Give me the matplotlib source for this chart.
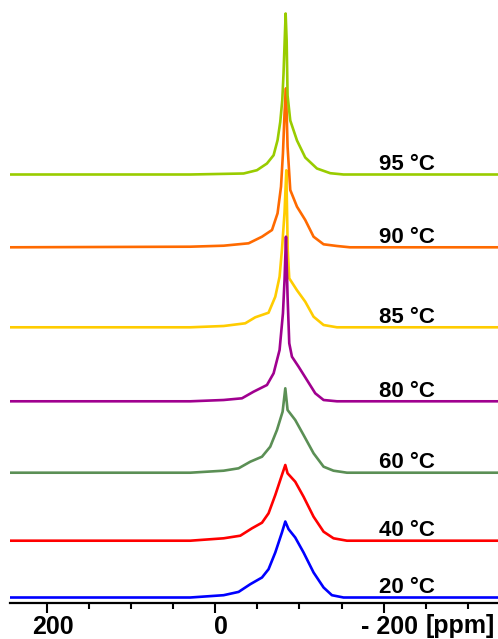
import numpy as np
import matplotlib
matplotlib.use('Agg')
import matplotlib.pyplot as plt
import matplotlib.transforms as mtransforms
from matplotlib.ticker import MultipleLocator

plt.rcParams['font.family'] = 'Liberation Sans'
plt.rcParams['font.weight'] = 'bold'

# temperatures, bottom trace first
temps = ['20 °C', '40 °C', '60 °C', '80 °C', '85 °C', '90 °C', '95 °C']
colors = ['#0000ff', '#ff0000', '#5b8f55', '#a0008f', '#ffcc00', '#ff6a00', '#99cc00']
# vertical stacking offset of each trace (intensity units)
offsets = [5.5, 62.3, 130.3, 201.7, 275.7, 355.7, 428.5]

# chemical shift (ppm) / intensity pairs
ppm_20 = [244, 29.7, -9.9, -27.7, -41.6, -55.5, -63.3, -71.3, -79.2, -83.2,
          -87.1, -95.0, -104.9, -116.8, -128.7, -138.6, -152.4, -336]
int_20 = [0, 0, 2.3, 5.6, 13.3, 20, 28.3, 45, 65, 76,
          68.3, 60, 45, 25, 10, 2.3, 0, 0]

ppm_40 = [244, 29.7, -9.9, -29.7, -43.6, -55.5, -63.3, -71.3, -79.2, -83.2,
          -85.9, -95.0, -104.9, -116.8, -128.7, -140.5, -156.5, -336]
int_40 = [0, 0, 2.4, 5, 12.4, 18, 27.4, 45.7, 65.7, 75.7,
          67.4, 59, 44, 24, 9, 2.4, 0, 0]

ppm_60 = [244, 29.7, -9.9, -27.7, -41.6, -55.5, -65.3, -73.3, -80.0, -83.2,
          -85.9, -95.0, -104.9, -116.8, -128.7, -140.5, -156.5, -336]
int_60 = [0, 0, 2, 4.4, 11, 16, 26, 42.7, 61, 84.4,
          62.7, 52.7, 37.7, 19.4, 6, 2, 0, 0]

ppm_80 = [244, 29.7, -9.9, -31.7, -45.5, -61.4, -69.3, -76.4, -80.4, -82.3,
          -84.0, -85.9, -87.9, -91.1, -99.0, -108.9, -118.8, -128.7, -144.6, -336]
int_80 = [0, 0, 1.3, 3, 9.6, 16.3, 28, 51.3, 88, 121.3,
          164.6, 104.6, 58, 44.6, 34.6, 21.3, 8, 1.3, 0, 0]

ppm_85 = [244, 29.7, -9.9, -35.6, -47.5, -63.3, -71.3, -76.4, -79.2, -82.3,
          -84.4, -86.1, -87.9, -97.1, -106.9, -116.8, -128.7, -144.6, -336]
int_85 = [0, 0, 1.3, 4, 10, 14.6, 30.6, 50.6, 77.3, 115,
          157, 77, 49, 37, 25.6, 10.6, 2.3, 0, 0]

ppm_90 = [244, 29.7, -9.9, -39.6, -55.5, -67.4, -74.0, -78.1, -80.4, -82.3,
          -84.0, -85.9, -89.1, -97.1, -106.9, -116.8, -128.7, -144.6, -160, -336]
int_90 = [0, 0.6, 1.6, 4, 10.6, 17.3, 34, 60.6, 94, 134,
          159, 100.6, 57.3, 40.6, 27.3, 10.6, 3, 1.3, 0, 0]

ppm_95 = [244, 29.7, -33.6, -49.5, -61.4, -69.3, -74.0, -77.2, -79.6, -81.1,
          -83.6, -84.8, -85.9, -89.1, -97.1, -106.9, -120.8, -136.6, -152.4, -336]
int_95 = [0, 0, 1, 4.3, 11, 19.3, 34.3, 52.6, 74.3, 101,
          161, 134, 79, 54, 34, 17, 6, 1.3, 0, 0]

ppms = [ppm_20, ppm_40, ppm_60, ppm_80, ppm_85, ppm_90, ppm_95]
ints = [int_20, int_40, int_60, int_80, int_85, int_90, int_95]

fig = plt.figure(figsize=(4.98, 6.39), dpi=100)
ax = fig.add_axes([10 / 498, 36 / 639, 488 / 498, 603 / 639])

# 85 C goes under 80 C so the sharp 80 C spike stays visible
order = [0, 1, 2, 4, 3, 5, 6]
for i in order:
    x = np.array(ppms[i])
    y = np.array(ints[i]) + offsets[i]
    ax.plot(x, y, color=colors[i], lw=1.9, solid_joinstyle='round', zorder=2 + order.index(i))

for i in range(len(temps)):
    ax.text(-194.5, offsets[i] + 4.5, temps[i], fontsize=16, fontweight='bold',
            ha='left', va='baseline', zorder=20)

ax.set_xlim(244, -336)
ax.set_ylim(0, 603)

for s in ['left', 'right', 'top']:
    ax.spines[s].set_visible(False)
ax.spines['bottom'].set_linewidth(1.6)
ax.set_yticks([])

ax.set_xticks([200, 0, -200])
ax.set_xticklabels(['200', '0', '- 200'])
ax.xaxis.set_minor_locator(MultipleLocator(50))
ax.tick_params(axis='x', which='major', length=7.5, width=1.5, pad=1.5,
               labelsize=18, direction='out')
ax.tick_params(axis='x', which='minor', length=4.5, width=1.5, direction='out')

# nudge the tick labels a little to the right
shift = mtransforms.ScaledTranslation(6 / 100, 0, fig.dpi_scale_trans)
for lab in ax.get_xticklabels():
    lab.set_transform(lab.get_transform() + shift)
    lab.set_fontweight('bold')

ax.text(-249.5, -29.7 / 603, '[ppm]', transform=ax.get_xaxis_transform(),
        fontsize=18, fontweight='bold', ha='left', va='baseline')

fig.savefig('out.png', dpi=100)
